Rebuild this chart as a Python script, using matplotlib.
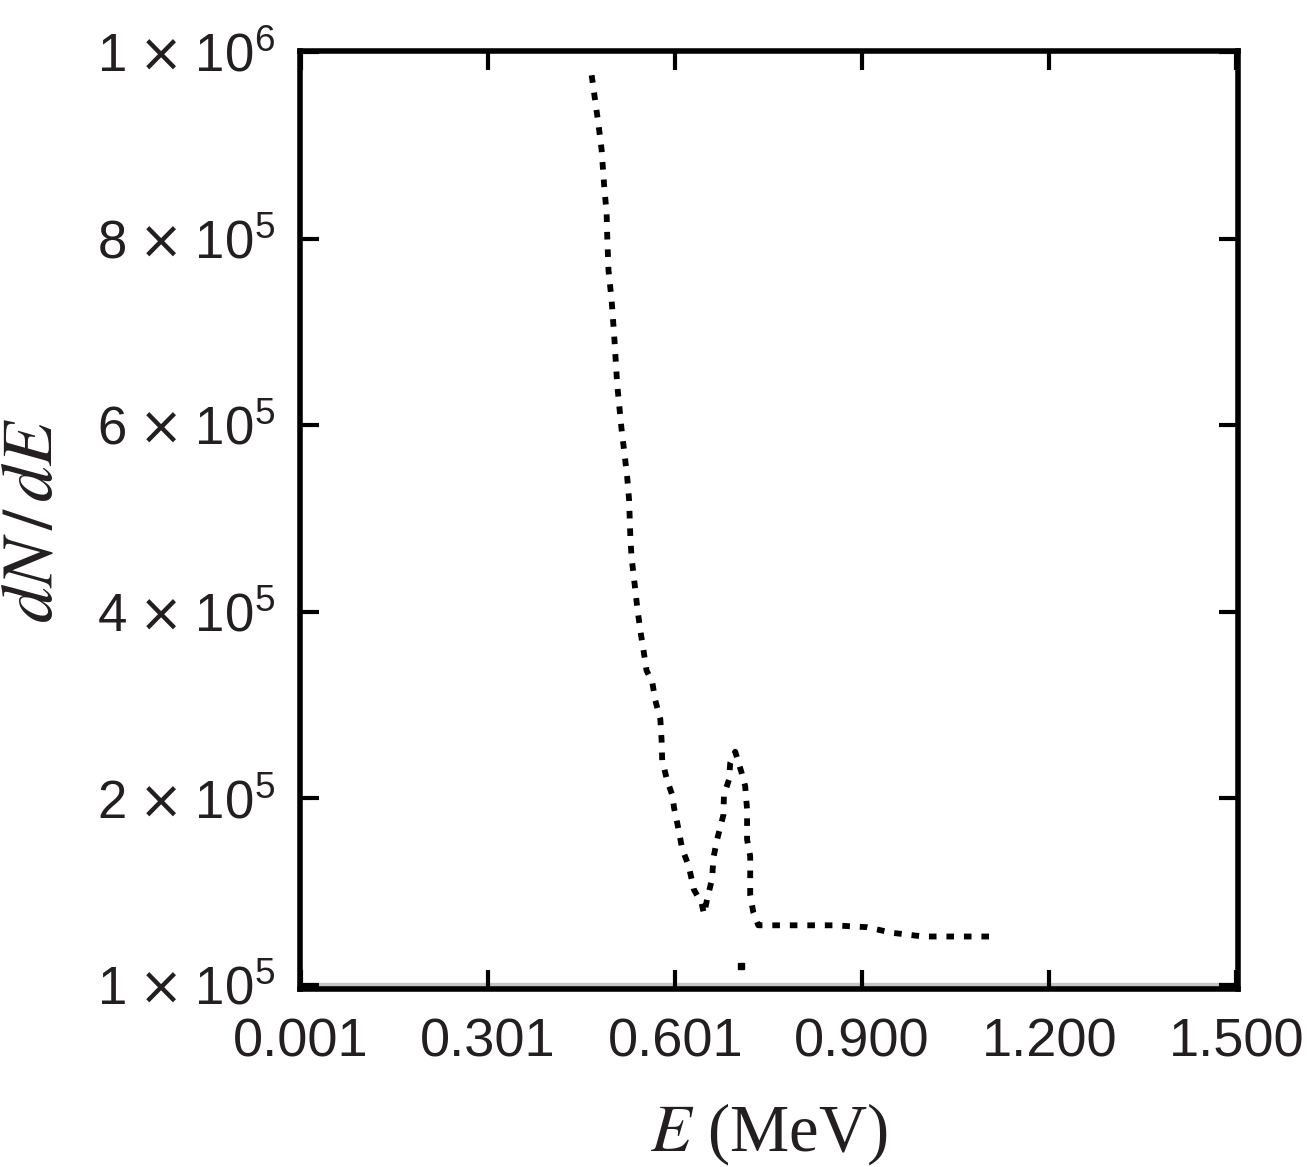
import numpy as np
import matplotlib
matplotlib.use("Agg")
import matplotlib.pyplot as plt

plt.rcParams['mathtext.fontset'] = 'custom'
plt.rcParams['mathtext.rm'] = 'Liberation Sans'
plt.rcParams['mathtext.it'] = 'Liberation Sans:italic'
plt.rcParams['mathtext.sf'] = 'DejaVu Sans'
plt.rcParams['font.family'] = ['Liberation Sans', 'DejaVu Sans']

# ---- data ----
energy = [0.467, 0.478, 0.483, 0.487, 0.491, 0.492, 0.494, 0.499, 0.503, 0.508,
          0.515, 0.519, 0.524, 0.527, 0.529, 0.531, 0.537, 0.540, 0.545, 0.550,
          0.555, 0.564, 0.569, 0.577, 0.579, 0.580, 0.588, 0.596, 0.599, 0.604,
          0.607, 0.612, 0.620, 0.623, 0.631, 0.643, 0.647, 0.652, 0.660, 0.662,
          0.668, 0.678, 0.679, 0.687, 0.689, 0.697, 0.707, 0.713, 0.716, 0.716,
          0.721, 0.721, 0.726, 0.734, 0.775, 0.803, 0.854, 0.908, 0.948, 0.998,
          1.060, 1.115]
dnde = [975e3, 922e3, 895e3, 857e3, 827e3, 802e3, 766e3, 734e3, 697e3, 643e3,
        595e3, 573e3, 544e3, 520e3, 480e3, 458e3, 423e3, 405e3, 380e3, 359e3,
        337e3, 325e3, 305e3, 285e3, 263e3, 241e3, 219e3, 204e3, 195e3, 187e3,
        182e3, 173e3, 166e3, 163e3, 151e3, 144e3, 138e3, 146e3, 157e3, 168e3,
        178e3, 191e3, 204e3, 220e3, 238e3, 250e3, 228e3, 213e3, 194e3, 178e3,
        169e3, 148e3, 139e3, 132e3, 132e3, 132e3, 132e3, 131e3, 128e3, 126e3,
        126e3, 126e3]
outlier_E = [0.707]
outlier_v = [110e3]
floor_E = [0.0005, 1.5025]
floor_v = [1e5, 1e5]

xticks = [0.001, 0.301, 0.601, 0.900, 1.200, 1.500]
xticklabels = ['0.001', '0.301', '0.601', '0.900', '1.200', '1.500']
yticks = [1e5, 2e5, 4e5, 6e5, 8e5, 1e6]
yticklabels = [r'$1\;\mathsf{\times}\;10^{5}$', r'$2\;\mathsf{\times}\;10^{5}$',
               r'$4\;\mathsf{\times}\;10^{5}$', r'$6\;\mathsf{\times}\;10^{5}$',
               r'$8\;\mathsf{\times}\;10^{5}$', r'$1\;\mathsf{\times}\;10^{6}$']

# evenly spaced tick scale
_vals = np.array([0, 1e5, 2e5, 4e5, 6e5, 8e5, 1e6, 1.2e6])
_pos = np.array([-1, 0, 1, 2, 3, 4, 5, 6], dtype=float)
def fwd(v):
    return np.interp(v, _vals, _pos)
def inv(p):
    return np.interp(p, _pos, _vals)

txtc = '#231f20'
fig = plt.figure(figsize=(13.08, 11.67), dpi=100)
ax = fig.add_axes([0.2297, 0.1521, 0.9465 - 0.2297, 0.9563 - 0.1521])
ax.set_yscale('function', functions=(fwd, inv))

ax.plot(floor_E, floor_v, color='#c4c4c4', lw=3.8, solid_capstyle='butt', zorder=1)
ax.plot(energy, dnde, color='black', lw=4.2, linestyle=(0, (1.3, 1.7)),
        dash_capstyle='butt', zorder=3)
ax.plot(outlier_E, outlier_v, 's', color='black', ms=4, zorder=3)

ax.set_xlim(0.0005, 1.5025)
ax.set_ylim(97600, 1.001e6)
ax.set_xticks(xticks)
ax.set_xticklabels(xticklabels)
ax.set_yticks(yticks)
ax.set_yticklabels(yticklabels)
ax.minorticks_off()

for s in ax.spines.values():
    s.set_linewidth(4)
    s.set_color('black')
ax.tick_params(axis='both', direction='in', length=14, width=3, color='black',
               top=True, right=True, labelsize=38, labelcolor=txtc, pad=18)
ax.tick_params(axis='x', pad=20, labelsize=39)

ax.set_xlabel(r'$E$ (MeV)', fontsize=48, family='Liberation Serif',
              math_fontfamily='stix', color=txtc, labelpad=24)
ax.set_ylabel(r'$dN\,/\,dE$', fontsize=52, family='Liberation Serif',
              math_fontfamily='stix', color=txtc, labelpad=22)

fig.savefig('out.png', dpi=100)
